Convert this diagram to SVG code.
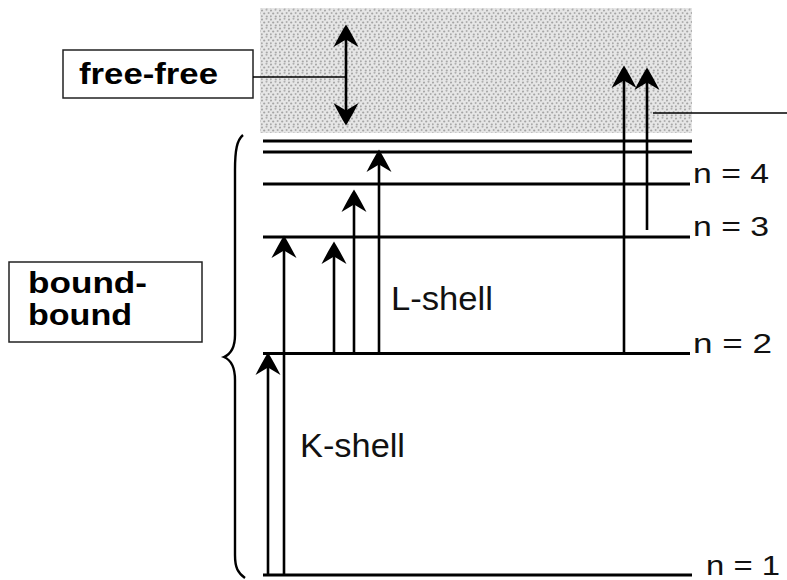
<svg xmlns="http://www.w3.org/2000/svg" width="787" height="580" viewBox="0 0 787 580">
<style>
.lvl{stroke:#000;stroke-width:3;fill:none}
.arr{stroke:#000;stroke-width:2.6;fill:none;marker-end:url(#ah)}
.thin{stroke:#000;stroke-width:1.3;fill:none}
.box{fill:#fff;stroke:#222;stroke-width:1.5}
.bold{font-family:"Liberation Sans",Arial,sans-serif;font-weight:bold;font-size:29px;fill:#000}
.lab{font-family:"Liberation Sans",Arial,sans-serif;font-size:28px;fill:#111}
.shell{font-family:"Liberation Sans",Arial,sans-serif;font-size:33px;fill:#111}
</style>
<defs>
<pattern id="stip" width="9" height="9" patternUnits="userSpaceOnUse">
<rect width="9" height="9" fill="#e6e6e6"/>
<circle cx="1" cy="1.5" r="1.1" fill="#a8a8a8"/>
<circle cx="5.5" cy="0.8" r="1" fill="#b0b0b0"/>
<circle cx="3.2" cy="4.5" r="1.1" fill="#a4a4a4"/>
<circle cx="7.6" cy="4" r="1" fill="#adadad"/>
<circle cx="0.8" cy="7.2" r="1" fill="#aaaaaa"/>
<circle cx="5.8" cy="7.5" r="1.1" fill="#a6a6a6"/>
</pattern>
<marker id="ah" markerUnits="userSpaceOnUse" orient="auto-start-reverse" refX="0" refY="0" markerWidth="30" markerHeight="30" viewBox="-12 -12 24 24" overflow="visible">
<path d="M10,0 C5,-3 -2,-7 -8,-10 L-2,0 L-8,10 C-2,7 5,3 10,0 Z" fill="#000"/>
</marker>
</defs>

<g id="continuum">
<rect x="260" y="8" width="432" height="125" fill="url(#stip)"/>
</g>

<g id="levels">
<line class="lvl" x1="263" y1="141" x2="692" y2="141"/>
<line class="lvl" x1="263" y1="152" x2="692" y2="152"/>
<line class="lvl" x1="263" y1="184" x2="690" y2="184"/>
<line class="lvl" x1="263" y1="237" x2="690" y2="237"/>
<line class="lvl" x1="263" y1="353.5" x2="690" y2="353.5"/>
<line class="lvl" x1="263" y1="575" x2="692" y2="575"/>
</g>

<g id="brace">
<path d="M243,135 C237,140 235,150 235,170 L235,335 C235,348 231,354 224,357 C231,360 235,366 235,380 L235,555 C235,568 238,573 245,578" stroke="#000" stroke-width="2.4" fill="none"/>
</g>

<g id="free-free">
<rect class="box" x="63" y="50" width="190" height="48"/>
<text class="bold" x="79" y="84" textLength="139" lengthAdjust="spacingAndGlyphs">free-free</text>
</g>

<g id="bound-bound">
<rect class="box" x="9" y="262" width="193" height="80"/>
<text class="bold" x="28" y="293" textLength="119" lengthAdjust="spacingAndGlyphs">bound-</text>
<text class="bold" x="28" y="325" textLength="104" lengthAdjust="spacingAndGlyphs">bound</text>
</g>

<g id="labels">
<text class="lab" x="693" y="183" textLength="76" lengthAdjust="spacingAndGlyphs">n = 4</text>
<text class="lab" x="693" y="236" textLength="76" lengthAdjust="spacingAndGlyphs">n = 3</text>
<text class="lab" x="693" y="353" textLength="79" lengthAdjust="spacingAndGlyphs">n = 2</text>
<text class="lab" x="706" y="575" textLength="74" lengthAdjust="spacingAndGlyphs">n = 1</text>
<text class="shell" x="391" y="310" textLength="102" lengthAdjust="spacingAndGlyphs">L-shell</text>
<text class="shell" x="300" y="457" textLength="105" lengthAdjust="spacingAndGlyphs">K-shell</text>
</g>

<g id="connectors">
<line class="thin" x1="253" y1="77" x2="346" y2="77"/>
<line class="thin" x1="653" y1="113" x2="787" y2="113"/>
<line x1="346" y1="37" x2="346" y2="113" stroke="#000" stroke-width="2.6" marker-start="url(#ah)" marker-end="url(#ah)"/>
<line class="arr" x1="268" y1="575" x2="268" y2="365"/>
<line class="arr" x1="284" y1="575" x2="284" y2="248"/>
<line class="arr" x1="334" y1="353" x2="334" y2="254"/>
<line class="arr" x1="354" y1="353" x2="354" y2="202"/>
<line class="arr" x1="379" y1="353" x2="379" y2="162"/>
<line class="arr" x1="624" y1="353" x2="624" y2="78"/>
<line class="arr" x1="647" y1="230" x2="647" y2="80"/>
</g>
</svg>
